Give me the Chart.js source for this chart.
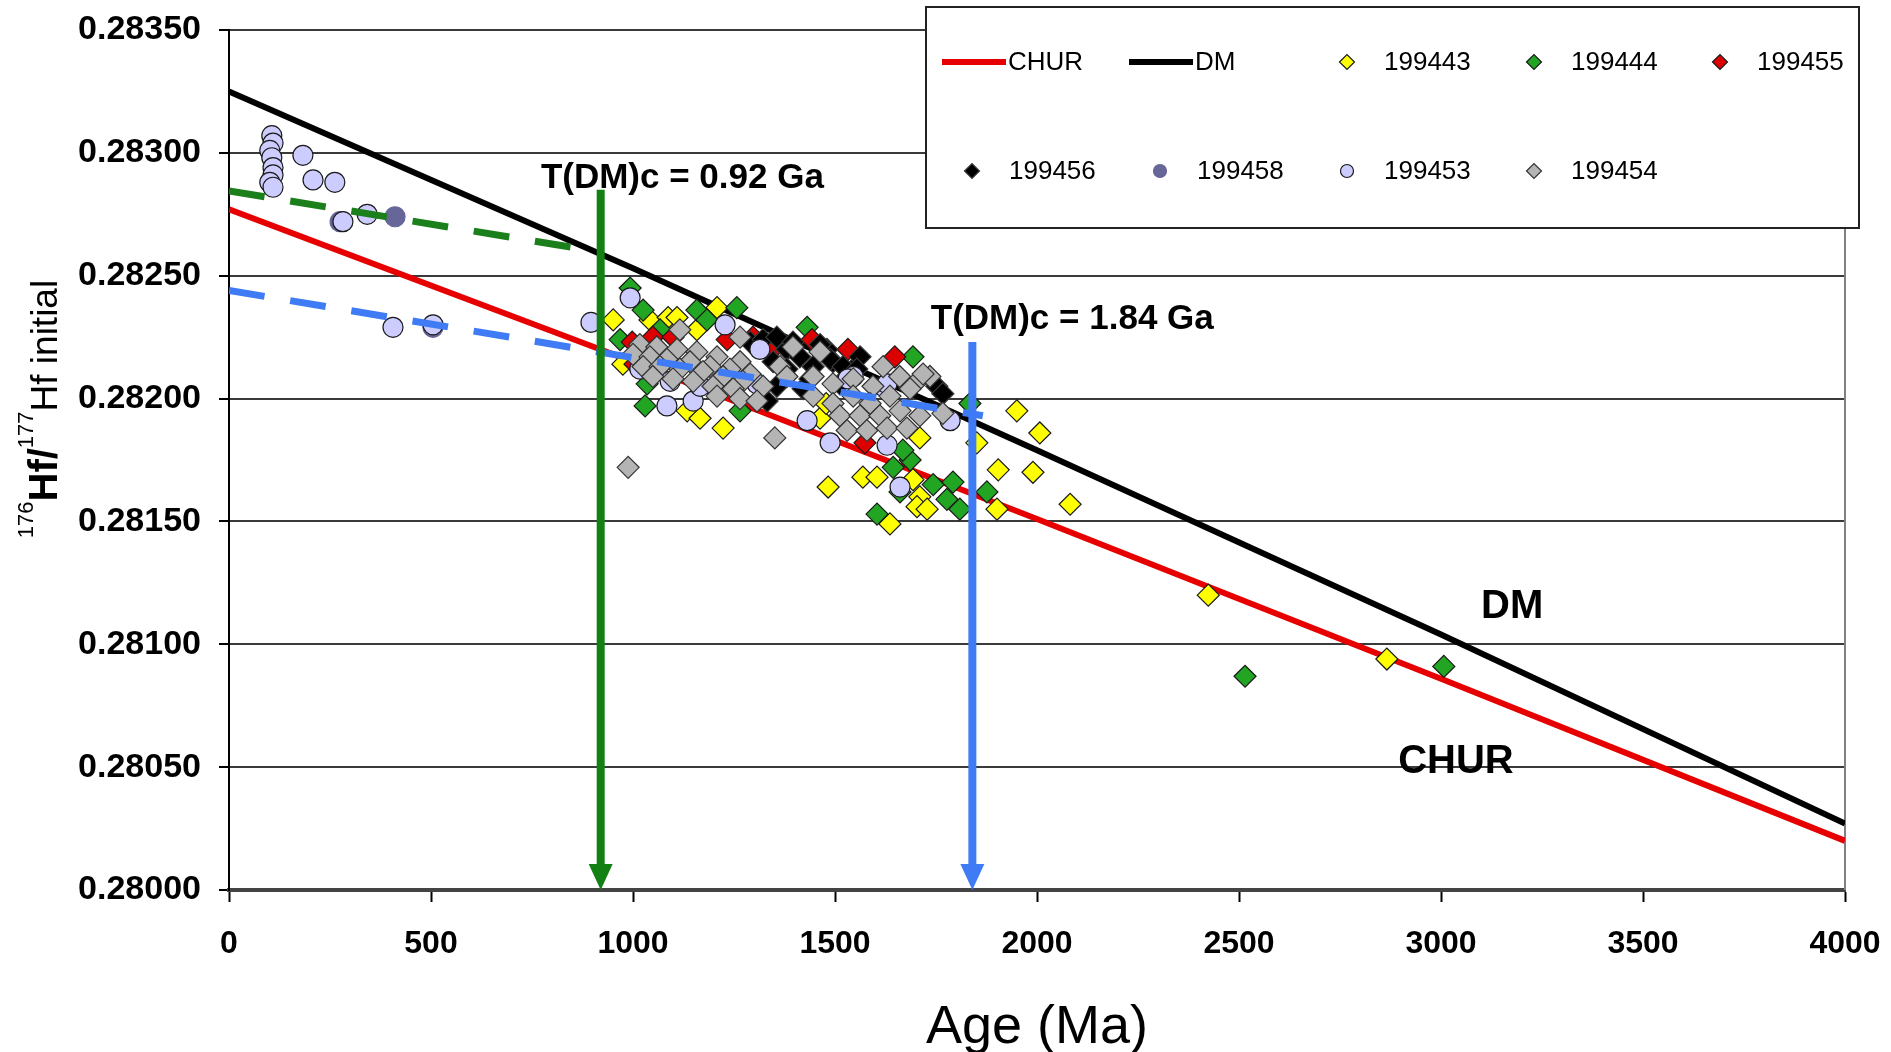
<!DOCTYPE html>
<html>
<head>
<meta charset="utf-8">
<title>Hf isotope evolution</title>
<script src="https://cdn.jsdelivr.net/npm/chart.js@4.4.1/dist/chart.umd.min.js"></script>
<style>
  html, body { margin: 0; padding: 0; background: #ffffff; }
  #wrap { position: relative; width: 1891px; height: 1052px; }
</style>
</head>
<body>
<div id="wrap"><canvas id="hfChart"></canvas></div>
<script>
// ---- axes ----
const ageTicks = [0, 500, 1000, 1500, 2000, 2500, 3000, 3500, 4000];
const hfTicks = [0.28000, 0.28050, 0.28100, 0.28150, 0.28200, 0.28250, 0.28300, 0.28350];

// ---- reference reservoirs (age in Ma, 176Hf/177Hf) ----
const churAge = [0, 1000, 2000, 3000, 4000];
const churHf  = [0.28277, 0.28215, 0.28151, 0.28086, 0.28020];
const dmAge   = [0, 1000, 2000, 3000, 4000];
const dmHf    = [0.28325, 0.28253, 0.28179, 0.28104, 0.28027];

// ---- crustal evolution trends ----
const greenTrendAge = [0, 870];
const greenTrendHf  = [0.282845, 0.282610];
const blueTrendAge  = [0, 1866];
const blueTrendHf   = [0.28244, 0.28193];

// ---- crustal model ages T(DM)c ----
const tdmAge   = [920, 1840];
const tdmTopHf = [0.28285, 0.28223];
const tdmText  = ['T(DM)c = 0.92 Ga', 'T(DM)c = 1.84 Ga'];

// ---- samples ----
const age199443 = [951, 1042, 1087, 1109, 1158, 1208, 1134, 1166, 1223, 975, 1463, 1478, 1483, 1569, 1604, 1693, 1710, 1703, 1728, 1636, 1710, 1851, 1901, 1950, 2007, 1904, 1990, 2082, 2424, 2866];
const hf199443  = [0.28232, 0.28232, 0.28233, 0.28233, 0.28228, 0.28237, 0.28195, 0.28192, 0.28188, 0.28214, 0.28192, 0.28198, 0.28164, 0.28168, 0.28168, 0.28167, 0.28160, 0.28156, 0.28155, 0.28149, 0.28184, 0.28182, 0.28155, 0.28195, 0.28186, 0.28171, 0.28170, 0.28157, 0.28120, 0.28094];

const age199444 = [993, 1025, 1067, 1158, 1257, 1183, 968, 1030, 1265, 1035, 1431, 1693, 1834, 1686, 1644, 1743, 1792, 1777, 1876, 1604, 1809, 1661, 1668, 2515, 3007];
const hf199444  = [0.28245, 0.28236, 0.28228, 0.28236, 0.28237, 0.28232, 0.28224, 0.28197, 0.28195, 0.28206, 0.28229, 0.28217, 0.28198, 0.28175, 0.28172, 0.28165, 0.28166, 0.28159, 0.28162, 0.28153, 0.28155, 0.28162, 0.28179, 0.28087, 0.28091];

const age199455 = [998, 1005, 1049, 1099, 1233, 1297, 1339, 1443, 1532, 1648, 1574];
const hf199455  = [0.28223, 0.28214, 0.28225, 0.28225, 0.28224, 0.28225, 0.28219, 0.28224, 0.28220, 0.28217, 0.28182];

const age199456 = [1290, 1322, 1356, 1381, 1413, 1347, 1381, 1446, 1480, 1495, 1356, 1421, 1545, 1562, 1752, 1767, 1332, 1396, 1463, 1438, 1512, 1488, 1520, 1554];
const hf199456  = [0.28223, 0.28224, 0.28225, 0.28220, 0.28217, 0.28215, 0.28212, 0.28213, 0.28220, 0.28215, 0.28205, 0.28204, 0.28212, 0.28217, 0.28205, 0.28202, 0.28199, 0.28223, 0.28222, 0.28208, 0.28206, 0.28216, 0.28213, 0.28212];

const age199458 = [275, 411, 505];
const hf199458  = [0.28272, 0.28274, 0.28229];

const age199453 = [106, 109, 101, 106, 109, 109, 101, 109, 183, 208, 262, 282, 342, 406, 505,
                   896, 993, 1228, 1084, 1149, 1431, 1488, 1629, 1661, 1785, 1017, 1092, 1166, 1248, 1314, 1545, 1619, 1307, 1532, 1629];
const hf199453  = [0.28307, 0.28304, 0.28301, 0.28298, 0.28294, 0.28291, 0.28288, 0.28286, 0.28299, 0.28289, 0.28288, 0.28272, 0.28275, 0.28229, 0.28230,
                   0.28231, 0.28241, 0.28230, 0.28197, 0.28199, 0.28191, 0.28182, 0.28181, 0.28164, 0.28191, 0.28212, 0.28207, 0.28205, 0.28209, 0.28220, 0.28209, 0.28205, 0.28206, 0.28208, 0.28206];

const age199454 = [1017, 1059, 1109, 1158, 1208, 1265, 1000, 1042, 1084, 1141, 1191, 1240, 1290,
                   1025, 1067, 1116, 1173, 1223, 1272, 1322, 1049, 1099, 1149, 1198, 1248, 1208, 1265, 1307,
                   1116, 1265, 1446, 1495, 1545, 1594, 1619, 1660, 1710, 1446, 1495, 1545, 1587, 1636, 1686,
                   1512, 1562, 1611, 1661, 1710, 1530, 1579, 1629, 1678, 1767, 1735, 1718, 1364, 1396, 1381, 1463, 1351, 988];
const hf199454  = [0.28222, 0.28221, 0.28220, 0.28219, 0.28217, 0.28215, 0.28218, 0.28217, 0.28216, 0.28215, 0.28213, 0.28212, 0.28210,
                   0.28213, 0.28213, 0.28212, 0.28211, 0.28209, 0.28207, 0.28205, 0.28209, 0.28208, 0.28207, 0.28205, 0.28204, 0.28201, 0.28200, 0.28199,
                   0.28228, 0.28225, 0.28209, 0.28206, 0.28208, 0.28205, 0.28213, 0.28209, 0.28208, 0.28201, 0.28198, 0.28201, 0.28198, 0.28201, 0.28204,
                   0.28193, 0.28193, 0.28193, 0.28195, 0.28193, 0.28187, 0.28187, 0.28188, 0.28188, 0.28194, 0.28209, 0.28210, 0.28213, 0.28221, 0.28209, 0.28219, 0.28184, 0.28172];

const FONT = "'Liberation Sans', Arial, Helvetica, sans-serif";

function pts(xs, ys) { return xs.map((x, i) => ({ x: x, y: ys[i] })); }

function sampleSet(label, ages, hf, shape, fill, edge, radius, order) {
  return {
    label: label, data: pts(ages, hf), showLine: false,
    pointStyle: shape, pointRadius: radius, pointHoverRadius: radius,
    backgroundColor: fill, borderColor: edge, pointBorderWidth: 1.2,
    order: order
  };
}

function lineSet(label, ages, hf, color, width, dash, order) {
  return {
    label: label, data: pts(ages, hf), showLine: true,
    borderColor: color, backgroundColor: color, borderWidth: width,
    borderDash: dash, borderCapStyle: 'butt',
    pointRadius: 0, pointHoverRadius: 0, tension: 0, order: order
  };
}

const datasets = [
  lineSet('CHUR', churAge, churHf, '#E60000', 6, [], 100),
  lineSet('DM', dmAge, dmHf, '#000000', 6, [], 99),
  sampleSet('199443', age199443, hf199443, 'rectRot', '#FFFF00', '#1a1a1a', 11, 30),
  sampleSet('199444', age199444, hf199444, 'rectRot', '#22A522', '#1a1a1a', 11, 29),
  sampleSet('199455', age199455, hf199455, 'rectRot', '#DD0000', '#1a1a1a', 11, 28),
  sampleSet('199456', age199456, hf199456, 'rectRot', '#000000', '#3a3a3a', 11, 27),
  sampleSet('199458', age199458, hf199458, 'circle', '#666699', '#666699', 10, 26),
  sampleSet('199453', age199453, hf199453, 'circle', '#CCCCFF', '#1a1a1a', 10, 25),
  sampleSet('199454', age199454, hf199454, 'rectRot', '#B4B4B4', '#333333', 11, 24),
  lineSet('green trend', greenTrendAge, greenTrendHf, '#1B801B', 7, [36, 26], 2),
  lineSet('blue trend', blueTrendAge, blueTrendHf, '#3F7BF5', 7, [36, 26], 1)
];

// ---- drawing helpers ----
function marker(ctx, shape, x, y, r, fill, edge) {
  ctx.beginPath();
  if (shape === 'circle') {
    ctx.arc(x, y, r, 0, Math.PI * 2);
  } else {
    ctx.moveTo(x - r, y); ctx.lineTo(x, y - r); ctx.lineTo(x + r, y); ctx.lineTo(x, y + r);
    ctx.closePath();
  }
  ctx.fillStyle = fill; ctx.fill();
  ctx.lineWidth = 1.2; ctx.strokeStyle = edge; ctx.stroke();
}

const legendSlots = [
  ['CHUR', 942, 62], ['DM', 1129, 62], ['199443', 1347, 62], ['199444', 1534, 62], ['199455', 1720, 62],
  ['199456', 972, 171], ['199458', 1160, 171], ['199453', 1347, 171], ['199454', 1534, 171]
];

const decor = {
  id: 'hfDecor',
  beforeDatasetsDraw(chart) {
    const { ctx, chartArea } = chart;
    ctx.save();
    ctx.strokeStyle = '#808080';
    ctx.lineWidth = 2;
    ctx.beginPath();
    ctx.moveTo(chartArea.right, chartArea.top);
    ctx.lineTo(chartArea.right, chartArea.bottom);
    ctx.stroke();
    ctx.restore();
  },
  afterDatasetsDraw(chart) {
    const { ctx } = chart;
    const xs = chart.scales.x, ys = chart.scales.y;
    const arrowColors = ['#138013', '#3F7BF5'];
    ctx.save();
    tdmAge.forEach((a, i) => {
      const px = xs.getPixelForValue(a);
      const top = ys.getPixelForValue(tdmTopHf[i]);
      const tip = ys.getPixelForValue(hfTicks[0]);
      const headH = 26, headW = 24;
      ctx.strokeStyle = arrowColors[i];
      ctx.fillStyle = arrowColors[i];
      ctx.lineWidth = 8;
      ctx.lineCap = 'butt';
      ctx.beginPath();
      ctx.moveTo(px, top);
      ctx.lineTo(px, tip - headH + 2);
      ctx.stroke();
      ctx.beginPath();
      ctx.moveTo(px - headW / 2, tip - headH);
      ctx.lineTo(px + headW / 2, tip - headH);
      ctx.lineTo(px, tip);
      ctx.closePath();
      ctx.fill();
    });

    // model-age captions and reservoir names
    ctx.fillStyle = '#000';
    ctx.textBaseline = 'middle';
    ctx.font = 'bold 35px ' + FONT;
    ctx.textAlign = 'left';
    ctx.fillText(tdmText[0], xs.getPixelForValue(772), ys.getPixelForValue(0.282898));
    ctx.fillText(tdmText[1], xs.getPixelForValue(1737), ys.getPixelForValue(0.282321));
    ctx.font = 'bold 40px ' + FONT;
    ctx.textAlign = 'center';
    ctx.fillText('DM', xs.getPixelForValue(3176), ys.getPixelForValue(0.281153));
    ctx.fillText('CHUR', xs.getPixelForValue(3037), ys.getPixelForValue(0.280521));
    ctx.restore();
  },
  afterDraw(chart) {
    const { ctx, chartArea } = chart;
    ctx.save();

    // x axis title
    ctx.fillStyle = '#000';
    ctx.font = '54px ' + FONT;
    ctx.textAlign = 'center';
    ctx.textBaseline = 'middle';
    ctx.fillText('Age (Ma)', (chartArea.left + chartArea.right) / 2, 1028);

    // y axis title: 176Hf/177Hf initial
    const parts = [
      { t: '176', f: '22px ' + FONT, dy: -24 },
      { t: 'Hf/', f: 'bold 40px ' + FONT, dy: 0 },
      { t: '177', f: '22px ' + FONT, dy: -24 },
      { t: 'Hf initial', f: '37px ' + FONT, dy: 0 }
    ];
    let total = 0;
    parts.forEach(p => { ctx.font = p.f; p.w = ctx.measureText(p.t).width; total += p.w; });
    ctx.translate(57, 409);
    ctx.rotate(-Math.PI / 2);
    ctx.textAlign = 'left';
    ctx.textBaseline = 'alphabetic';
    let cx = -total / 2;
    parts.forEach(p => { ctx.font = p.f; ctx.fillText(p.t, cx, p.dy); cx += p.w; });
    ctx.setTransform(1, 0, 0, 1, 0, 0);

    // legend box
    ctx.fillStyle = '#ffffff';
    ctx.fillRect(926, 7, 933, 221);
    ctx.strokeStyle = '#222';
    ctx.lineWidth = 2;
    ctx.strokeRect(926, 7, 933, 221);
    ctx.font = '26px ' + FONT;
    ctx.textBaseline = 'middle';
    ctx.textAlign = 'left';
    legendSlots.forEach(([label, x, y]) => {
      const ds = chart.data.datasets.find(d => d.label === label);
      if (!ds) return;
      if (ds.showLine) {
        ctx.strokeStyle = ds.borderColor;
        ctx.lineWidth = 6;
        ctx.beginPath();
        ctx.moveTo(x, y); ctx.lineTo(x + 64, y);
        ctx.stroke();
        ctx.fillStyle = '#000';
        ctx.fillText(label, x + 66, y + 1);
      } else {
        marker(ctx, ds.pointStyle, x, y, ds.pointStyle === 'circle' ? 6.5 : 7.5, ds.backgroundColor, ds.borderColor);
        ctx.fillStyle = '#000';
        ctx.fillText(label, x + 37, y + 1);
      }
    });
    ctx.restore();
  }
};

new Chart(document.getElementById('hfChart'), {
  type: 'scatter',
  data: { datasets: datasets },
  plugins: [decor],
  options: {
    responsive: true,
    maintainAspectRatio: false,
    animation: false,
    events: [],
    layout: { padding: { left: 0, right: 46, top: 30, bottom: 0 } },
    plugins: { legend: { display: false }, tooltip: { enabled: false }, title: { display: false } },
    scales: {
      x: {
        type: 'linear', min: 0, max: 4000,
        afterBuildTicks: s => { s.ticks = ageTicks.map(v => ({ value: v })); },
        afterFit: s => { s.height = 162; s.paddingLeft = 0; s.paddingRight = 0; },
        ticks: { color: '#000', padding: 23, maxRotation: 0, font: { family: FONT, size: 32, weight: 'bold' },
                 callback: v => String(v) },
        grid: { drawOnChartArea: false, drawTicks: true, tickLength: 12, tickColor: '#000', tickWidth: 2 },
        border: { display: true, color: '#444', width: 4 }
      },
      y: {
        type: 'linear', min: 0.28, max: 0.2835,
        afterBuildTicks: s => { s.ticks = hfTicks.map(v => ({ value: v })); },
        afterFit: s => { s.width = 229; s.paddingTop = 0; s.paddingBottom = 0; },
        ticks: { color: '#000', padding: 18, font: { family: FONT, size: 34, weight: 'bold' },
                 callback: v => Number(v).toFixed(5) },
        grid: { color: '#3a3a3a', lineWidth: 2, drawTicks: true, tickLength: 10, tickColor: '#000' },
        border: { display: true, color: '#000', width: 2 }
      }
    }
  }
});
</script>
</body>
</html>
